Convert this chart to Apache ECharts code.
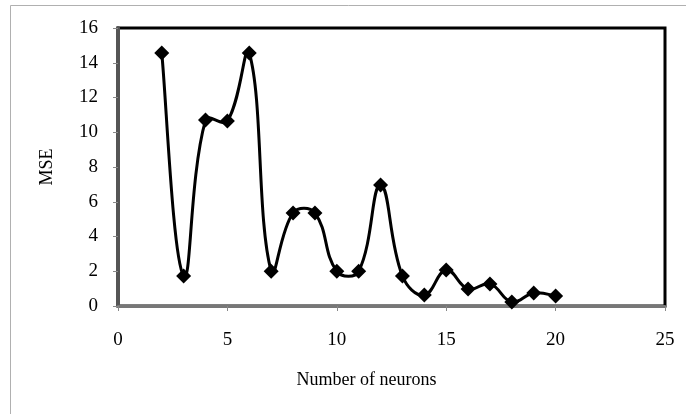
<!DOCTYPE html>
<html><head><meta charset="utf-8">
<script src="https://cdn.jsdelivr.net/npm/echarts@6/dist/echarts.min.js"></script>
<style>html,body{margin:0;padding:0;background:#fff}#c{width:686px;height:414px}</style>
</head><body><div id="c"></div>
<script>
const neurons = [2,3,4,5,6,7,8,9,10,11,12,13,14,15,16,17,18,19,20];
const mse = [14.56,1.73,10.7,10.65,14.56,2.0,5.35,5.35,2.0,2.0,6.96,1.73,0.63,2.07,0.98,1.27,0.23,0.75,0.58];
const xTicks = [0,5,10,15,20,25];
const yTicks = [0,2,4,6,8,10,12,14,16];

const chart = echarts.init(document.getElementById('c'));
const font = '"Liberation Serif", "DejaVu Serif", serif';

function renderSmooth(params, api){
  if (params.dataIndex !== 0) return null;
  const p = neurons.map((n,i)=>api.coord([n, mse[i]]));
  const s = 0.42;
  const dist = (a,b)=>Math.hypot(b[0]-a[0], b[1]-a[1]);
  let d = 'M' + p[0][0] + ' ' + p[0][1];
  for (let i=0;i<p.length-1;i++){
    const p0 = p[Math.max(i-1,0)], p1 = p[i], p2 = p[i+1], p3 = p[Math.min(i+2,p.length-1)];
    const l01 = dist(p0,p1), l12 = dist(p1,p2), l23 = dist(p2,p3);
    const r1 = l01 > 0 ? l12/(l01+l12) : 0.5;
    const r2 = l23 > 0 ? l12/(l12+l23) : 0.5;
    const c1 = [p1[0]+(p2[0]-p0[0])*s*r1, p1[1]+(p2[1]-p0[1])*s*r1];
    const c2 = [p2[0]-(p3[0]-p1[0])*s*r2, p2[1]-(p3[1]-p1[1])*s*r2];
    d += ' C' + c1[0] + ' ' + c1[1] + ' ' + c2[0] + ' ' + c2[1] + ' ' + p2[0] + ' ' + p2[1];
  }
  return {type:'path', shape:{pathData:d}, style:{fill:'none', stroke:'#000', lineWidth:3}};
}

chart.setOption({
  animation:false,
  graphic:[{type:'rect',shape:{x:10.5,y:5.5,width:700,height:450},style:{fill:'none',stroke:'#b0b0b0',lineWidth:1},z:-1}],
  grid:{left:118,right:21,top:28,bottom:108,show:true,borderColor:'#000',borderWidth:3,backgroundColor:'#fff'},
  xAxis:{type:'value',min:xTicks[0],max:xTicks[xTicks.length-1],interval:5,
    name:'Number of neurons',nameLocation:'middle',nameGap:65,
    nameTextStyle:{fontFamily:font,fontSize:18,color:'#000',padding:[0,50,0,0]},
    axisLine:{show:true,lineStyle:{color:'#777',width:3}},
    axisTick:{show:true,length:5,lineStyle:{color:'#888',width:1}},
    axisLabel:{fontFamily:font,fontSize:19,color:'#000',margin:25},
    splitLine:{show:false}},
  yAxis:{type:'value',min:yTicks[0],max:yTicks[yTicks.length-1],interval:2,
    name:'MSE',nameLocation:'middle',nameGap:62,
    nameTextStyle:{fontFamily:font,fontSize:18,color:'#000'},
    axisLine:{show:true,lineStyle:{color:'#555',width:4}},
    axisTick:{show:true,length:5,lineStyle:{color:'#888',width:1}},
    axisLabel:{fontFamily:font,fontSize:19,color:'#000',margin:20},
    splitLine:{show:false}},
  series:[
    {type:'custom',renderItem:renderSmooth,data:[[neurons[0],mse[0]]],z:2,silent:true},
    {type:'line',data:neurons.map((n,i)=>[n,mse[i]]),
    symbol:'diamond',symbolSize:15,z:3,
    itemStyle:{color:'#000'},lineStyle:{width:0,opacity:0}}]
});
</script></body></html>
